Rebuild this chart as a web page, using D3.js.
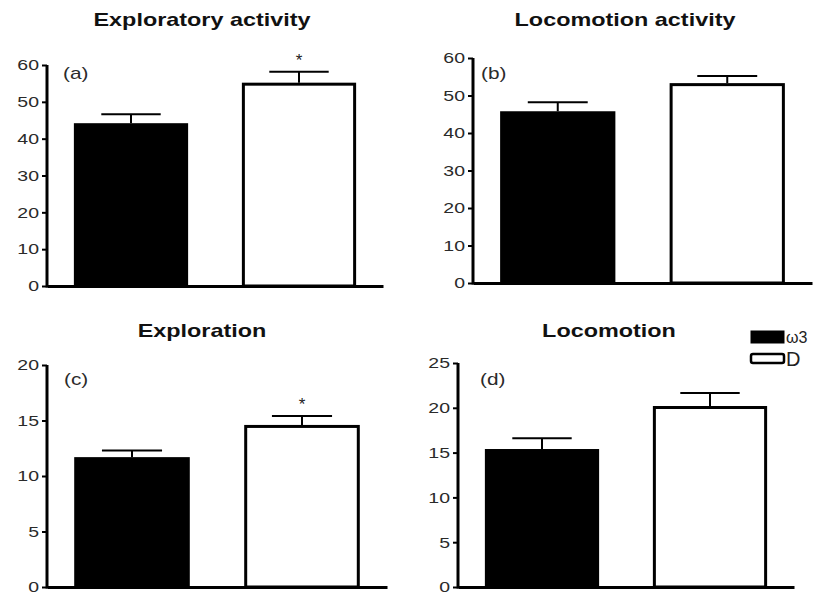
<!DOCTYPE html>
<html>
<head>
<meta charset="utf-8">
<script src="https://cdn.jsdelivr.net/npm/d3@7"></script>
<style>
  body { margin: 0; background: #fff; }
  svg { display: block; }
  .tick text { font-family: "Liberation Sans", Arial, sans-serif; font-size: 15px; fill: #2a2a2a; }
  .title { font-family: "Liberation Sans", Arial, sans-serif; font-weight: bold; font-size: 18px; fill: #111; }
  .panel-label { font-family: "Liberation Sans", Arial, sans-serif; font-size: 16px; fill: #2a2a2a; }
</style>
</head>
<body>
<svg width="814" height="596"></svg>
<script>
// DATA
const groups = ["ω3", "D"];
const panelTitles = ["Exploratory activity", "Locomotion activity", "Exploration", "Locomotion"];
const panelLabels = ["(a)", "(b)", "(c)", "(d)"];
const yMax = [60, 60, 20, 25];
const yStep = [10, 10, 5, 5];
const omega3Means = [44.2, 45.8, 11.7, 15.4];
const omega3Errors = [2.4, 2.4, 0.6, 1.2];
const dMeans = [55.2, 53.3, 14.6, 20.2];
const dErrors = [3.0, 1.9, 0.8, 1.45];
const significant = [true, false, true, false];

// the source figure is stretched sideways, so text is widened to match
const STRETCH = 1.3;

// panel placement (axis origin, top of y axis, right end of x axis, title / label spots)
const layout = [
  { x0: 47,  x1: 383, y0: 286, yTop: 65,  titleX: 202, titleY: 26,  labelX: 63,  labelY: 79 },
  { x0: 473, x1: 812, y0: 283, yTop: 58,  titleX: 625, titleY: 26,  labelX: 481, labelY: 79 },
  { x0: 47,  x1: 387, y0: 587, yTop: 365, titleX: 202, titleY: 337, labelX: 64,  labelY: 385 },
  { x0: 458, x1: 794, y0: 587, yTop: 363, titleX: 609, titleY: 337, labelX: 480, labelY: 385 }
];

const svg = d3.select("svg");
const fills = ["#000", "#fff"];

function stretchedText(parent, x, y, anchor, cls, txt){
  return parent.append("text")
    .attr("class", cls)
    .attr("transform", `translate(${x},${y}) scale(${STRETCH},1)`)
    .attr("text-anchor", anchor)
    .text(txt);
}

panelTitles.forEach(function(title, i){
  const L = layout[i];
  const g = svg.append("g");

  const x = d3.scaleBand()
    .domain(groups)
    .range([L.x0, L.x1])
    .paddingInner(0.32)
    .paddingOuter(0.16);

  const y = d3.scaleLinear()
    .domain([0, yMax[i]])
    .range([L.y0, L.yTop]);

  const rows = [
    { group: groups[0], mean: omega3Means[i], err: omega3Errors[i] },
    { group: groups[1], mean: dMeans[i], err: dErrors[i] }
  ];

  // bars
  g.selectAll(".bar")
    .data(rows)
    .enter()
    .append("rect")
    .attr("class", "bar")
    .attr("x", d => x(d.group) + 1.5)
    .attr("width", x.bandwidth() - 3)
    .attr("y", d => y(d.mean) + 1.5)
    .attr("height", d => y(0) - y(d.mean) - 1.5)
    .attr("fill", (d, j) => fills[j])
    .attr("stroke", "#000")
    .attr("stroke-width", 3);

  // error bars (upper only)
  const cx = d => x(d.group) + x.bandwidth() / 2;
  g.selectAll(".err")
    .data(rows)
    .enter()
    .append("line")
    .attr("x1", cx).attr("x2", cx)
    .attr("y1", d => y(d.mean))
    .attr("y2", d => y(d.mean + d.err))
    .attr("stroke", "#000")
    .attr("stroke-width", 2);

  g.selectAll(".cap")
    .data(rows)
    .enter()
    .append("line")
    .attr("x1", d => cx(d) - x.bandwidth() * 0.26)
    .attr("x2", d => cx(d) + x.bandwidth() * 0.26)
    .attr("y1", d => y(d.mean + d.err))
    .attr("y2", d => y(d.mean + d.err))
    .attr("stroke", "#000")
    .attr("stroke-width", 2);

  if (significant[i]) {
    g.append("text")
      .attr("x", cx(rows[1]))
      .attr("y", y(rows[1].mean + rows[1].err) - 6)
      .attr("text-anchor", "middle")
      .attr("font-family", "Liberation Sans, Arial, sans-serif")
      .attr("font-size", 17)
      .attr("fill", "#222")
      .text("*");
  }

  // axes
  const yAxis = d3.axisLeft(y)
    .tickValues(d3.range(0, yMax[i] + 0.001, yStep[i]))
    .tickSize(5)
    .tickSizeOuter(0)
    .tickPadding(2);

  const yg = g.append("g")
    .attr("transform", `translate(${L.x0},0)`)
    .call(yAxis);
  yg.select(".domain").attr("stroke", "#000").attr("stroke-width", 3)
    .attr("d", `M0,${L.y0 + 1.5}V${L.yTop}`);
  yg.selectAll(".tick line").attr("stroke", "#000").attr("stroke-width", 2);
  yg.selectAll(".tick text")
    .attr("x", null)
    .attr("transform", `translate(-8,0) scale(${STRETCH},1)`);

  const xg = g.append("g")
    .attr("transform", `translate(0,${L.y0})`)
    .call(d3.axisBottom(x).tickValues([]).tickSizeOuter(0));
  xg.select(".domain").attr("stroke", "#000").attr("stroke-width", 3);

  // title and panel label
  stretchedText(g, L.titleX, L.titleY, "middle", "title", title);
  stretchedText(g, L.labelX, L.labelY, "start", "panel-label", panelLabels[i]);
});

// legend
const legendTop = [331, 354];
const legendH = [12, 9];
const legendFont = [16, 20];
const legendBase = [343, 366];
const legend = svg.append("g");
groups.forEach(function(name, j){
  legend.append("rect")
    .attr("x", 751).attr("y", legendTop[j])
    .attr("width", 33).attr("height", legendH[j])
    .attr("rx", j === 0 ? 0 : 2)
    .attr("fill", fills[j])
    .attr("stroke", "#000")
    .attr("stroke-width", j === 0 ? 1 : 2.5);
  legend.append("text")
    .attr("transform", `translate(786,${legendBase[j]})`)
    .attr("font-family", "Liberation Sans, Arial, sans-serif")
    .attr("font-size", legendFont[j])
    .attr("fill", "#222")
    .text(name);
});
</script>
</body>
</html>
